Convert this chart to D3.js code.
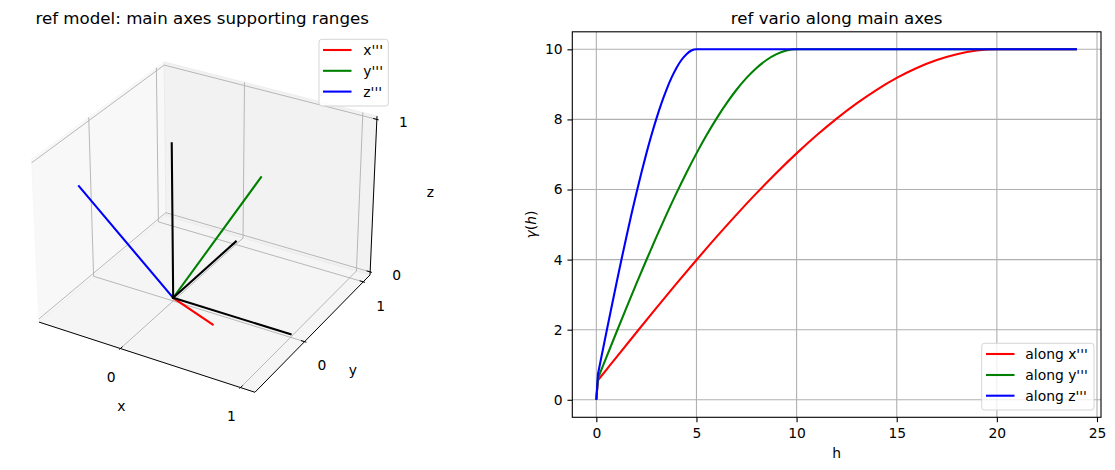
<!DOCTYPE html>
<html><head><meta charset="utf-8">
<script src="https://cdn.jsdelivr.net/npm/d3@7"></script>
<style>
body{margin:0;background:#fff}
svg{display:block}
text{font-family:"DejaVu Sans",sans-serif;fill:#000}
</style>
</head><body>
<svg id="chart" width="1115" height="470"></svg>
<script>
// ================= DATA =================
// left panel: rotated main axes (unit vectors) and reference axes
const axisLabels = ["x'''", "y'''", "z'''"];
const axisColors = ["#ff0000", "#008000", "#0000ff"];
const xTripleEnd = [0.706, -0.659, 0.260];
const yTripleEnd = [0.389, 0.668, 0.636];
const zTripleEnd = [-0.594, -0.346, 0.727];
const refAxisEnds = [[1, 0, 0], [0, 1, 0], [0, 0, 1]];
const ticks3d = [0, 1];

// right panel: variogram along the main axes
const seriesLabels = ["along x'''", "along y'''", "along z'''"];
const hAlongX = [0, 0.08, 0.5, 1, 2, 3, 4, 5, 6, 7, 8, 9, 10, 11, 12, 13, 14, 15, 16, 17, 18, 19, 20, 22, 24];
const gammaAlongX = [0, 0.557, 0.856, 1.212, 1.920, 2.621, 3.312, 3.988, 4.647, 5.284, 5.896, 6.480, 7.031, 7.547, 8.024, 8.458, 8.846, 9.184, 9.468, 9.695, 9.862, 9.965, 10, 10, 10];
const hAlongY = [0, 0.08, 0.25, 0.5, 1, 1.5, 2, 2.5, 3, 3.5, 4, 4.5, 5, 5.5, 6, 6.5, 7, 7.5, 8, 8.5, 9, 9.5, 10, 17, 24];
const gammaAlongY = [0, 0.614, 0.856, 1.212, 1.920, 2.621, 3.312, 3.988, 4.647, 5.284, 5.896, 6.480, 7.031, 7.547, 8.024, 8.458, 8.846, 9.184, 9.468, 9.695, 9.862, 9.965, 10, 10, 10];
const hAlongZ = [0, 0.08, 0.125, 0.25, 0.5, 0.75, 1, 1.25, 1.5, 1.75, 2, 2.25, 2.5, 2.75, 3, 3.25, 3.5, 3.75, 4, 4.25, 4.5, 4.75, 5, 14.5, 24];
const gammaAlongZ = [0, 0.728, 0.856, 1.212, 1.920, 2.621, 3.312, 3.988, 4.647, 5.284, 5.896, 6.480, 7.031, 7.547, 8.024, 8.458, 8.846, 9.184, 9.468, 9.695, 9.862, 9.965, 10, 10, 10];
const hTicks = [0, 5, 10, 15, 20, 25];
const gammaTicks = [0, 2, 4, 6, 8, 10];

// ================= COMMON =================
const svg = d3.select("#chart");
const FS = 13.89, TFS = 16.67;

// ================= LEFT: 3D =================
function dot(a, b) { return a[0]*b[0] + a[1]*b[1] + a[2]*b[2]; }
function cross(a, b) { return [a[1]*b[2]-a[2]*b[1], a[2]*b[0]-a[0]*b[2], a[0]*b[1]-a[1]*b[0]]; }
function unit(a) { const n = Math.hypot(a[0], a[1], a[2]); return a.map(v => v / n); }

const vecs = [xTripleEnd, yTripleEnd, zTripleEnd];
const allPts = [[0, 0, 0]].concat(vecs, refAxisEnds);
function autoLim(i, margin) {
  let lo = d3.min(allPts, p => p[i]), hi = d3.max(allPts, p => p[i]);
  const m = (hi - lo) * margin; lo -= m; hi += m;
  const pad = (hi - lo) / 48;
  return [lo - pad, hi + pad];
}
const LIM = [autoLim(0, 0.05), autoLim(1, 0.05), autoLim(2, 0)];
const boxAsp = [4, 4, 3].map(v => v * 1.8294640721620434 / Math.sqrt(41));
const elev = 30 * Math.PI / 180, azim = -60 * Math.PI / 180, dist = 10;
const W = [Math.cos(elev)*Math.cos(azim), Math.cos(elev)*Math.sin(azim), Math.sin(elev)];
const U = unit(cross([0, 0, 1], W));
const V = cross(W, U);
const ax3 = {left: 1.8, top: 24.6, size: 400.5};
const sx3 = d3.scaleLinear().domain([-0.095, 0.09]).range([ax3.left, ax3.left + ax3.size]);
const sy3 = d3.scaleLinear().domain([-0.095, 0.09]).range([ax3.top + ax3.size, ax3.top]);
function P(p) {
  const q = p.map((v, i) => (v - LIM[i][0]) / (LIM[i][1] - LIM[i][0]) * boxAsp[i] - boxAsp[i] / 2);
  const d = dist - dot(W, q);
  return [sx3(dot(U, q) / d), sy3(dot(V, q) / d)];
}
const line3 = pts => d3.line()(pts.map(P));
const [xlo, xhi] = LIM[0], [ylo, yhi] = LIM[1], [zlo, zhi] = LIM[2];

const g3 = svg.append("g");
// panes
const panes = [
  {c: "rgba(242,242,242,0.5)", pts: [[xlo,ylo,zlo],[xlo,yhi,zlo],[xlo,yhi,zhi],[xlo,ylo,zhi]]},
  {c: "rgba(230,230,230,0.5)", pts: [[xlo,yhi,zlo],[xhi,yhi,zlo],[xhi,yhi,zhi],[xlo,yhi,zhi]]},
  {c: "rgba(236,236,236,0.5)", pts: [[xlo,ylo,zlo],[xhi,ylo,zlo],[xhi,yhi,zlo],[xlo,yhi,zlo]]}
];
panes.forEach(p => g3.append("path").attr("d", line3(p.pts) + "Z")
  .attr("fill", p.c).attr("stroke", p.c).attr("stroke-width", 1));

// gridlines
const gridCol = "#b0b0b0", gridW = 0.9;
ticks3d.forEach(t => {
  [[[t,ylo,zlo],[t,yhi,zlo],[t,yhi,zhi]],
   [[xhi,t,zlo],[xlo,t,zlo],[xlo,t,zhi]],
   [[xlo,ylo,t],[xlo,yhi,t],[xhi,yhi,t]]].forEach(pts =>
    g3.append("path").attr("d", line3(pts)).attr("fill", "none")
      .attr("stroke", gridCol).attr("stroke-width", gridW));
});

// axis lines
[[[xlo,ylo,zlo],[xhi,ylo,zlo]], [[xhi,ylo,zlo],[xhi,yhi,zlo]], [[xhi,yhi,zlo],[xhi,yhi,zhi]]]
  .forEach(pts => g3.append("path").attr("d", line3(pts)).attr("fill", "none")
    .attr("stroke", "#000").attr("stroke-width", 1));

// ticks and tick labels
const dxT = (xhi - xlo) / 12, dyT = (yhi - ylo) / 12;
const tickOff = {x: [-9.2, 28.9], y: [17.3, 23.7], z: [26.6, 2.6]};
ticks3d.forEach(t => {
  const defs = [
    {k: "x", a: [t, ylo - 0.1*dyT, zlo], b: [t, ylo + 0.2*dyT, zlo], o: [t, ylo, zlo]},
    {k: "y", a: [xhi + 0.1*dxT, t, zlo], b: [xhi - 0.2*dxT, t, zlo], o: [xhi, t, zlo]},
    {k: "z", a: [xhi + 0.1*dxT, yhi, t], b: [xhi - 0.2*dxT, yhi, t], o: [xhi, yhi, t]}
  ];
  defs.forEach(dd => {
    g3.append("path").attr("d", line3([dd.a, dd.b])).attr("stroke", "#000").attr("stroke-width", 1);
    const o = P(dd.o);
    g3.append("text").attr("x", o[0] + tickOff[dd.k][0]).attr("y", o[1] + tickOff[dd.k][1])
      .attr("text-anchor", "middle").attr("dominant-baseline", "central")
      .attr("font-size", FS).text(t);
  });
});
// axis labels
const midX = P([(xlo+xhi)/2, ylo, zlo]), midY = P([xhi, (ylo+yhi)/2, zlo]), midZ = P([xhi, yhi, (zlo+zhi)/2]);
[["x", midX, [-23, 49.5]], ["y", midY, [38, 38.5]], ["z", midZ, [57, -5.7]]].forEach(([s, m, off]) =>
  g3.append("text").attr("x", m[0] + off[0]).attr("y", m[1] + off[1])
    .attr("text-anchor", "middle").attr("dominant-baseline", "central").attr("font-size", FS).text(s));

// data lines
vecs.forEach((v, i) => g3.append("path").attr("d", line3([[0,0,0], v])).attr("fill", "none")
  .attr("stroke", axisColors[i]).attr("stroke-width", 2.08).attr("stroke-linecap", "square"));
refAxisEnds.forEach(v => g3.append("path").attr("d", line3([[0,0,0], v])).attr("fill", "none")
  .attr("stroke", "#000").attr("stroke-width", 2.08).attr("stroke-linecap", "square"));

// title
svg.append("text").attr("x", 202.2).attr("y", 24).attr("text-anchor", "middle")
  .attr("font-size", TFS).text("ref model: main axes supporting ranges");

// legend
function legend(x0, y0, w, h, lineX0, lineX1, textX, rowYs, labels) {
  const lg = svg.append("g");
  lg.append("rect").attr("x", x0).attr("y", y0).attr("width", w).attr("height", h)
    .attr("rx", 2.8).attr("fill", "rgba(255,255,255,0.8)").attr("stroke", "#d5d5d5").attr("stroke-width", 1);
  labels.forEach((lab, i) => {
    lg.append("line").attr("x1", lineX0).attr("x2", lineX1).attr("y1", rowYs[i]).attr("y2", rowYs[i])
      .attr("stroke", axisColors[i]).attr("stroke-width", 2.08);
    lg.append("text").attr("x", textX).attr("y", rowYs[i]).attr("dominant-baseline", "central")
      .attr("font-size", FS).text(lab);
  });
}
legend(319, 39.3, 69.3, 66.7, 323, 351.5, 363.3, [50, 70.8, 91.6], axisLabels);

// ================= RIGHT: variogram =================
const series = [
  {h: hAlongX, g: gammaAlongX},
  {h: hAlongY, g: gammaAlongY},
  {h: hAlongZ, g: gammaAlongZ}
];
const ax2 = {left: 572.3, right: 1101, top: 31.8, bottom: 417.3};
const hAll = [].concat(hAlongX, hAlongY, hAlongZ), gAll = [].concat(gammaAlongX, gammaAlongY, gammaAlongZ);
const hExt = d3.extent(hAll), gExt = d3.extent(gAll);
const hm = (hExt[1] - hExt[0]) * 0.05, gm = (gExt[1] - gExt[0]) * 0.05;
const xs = d3.scaleLinear().domain([hExt[0] - hm, hExt[1] + hm]).range([ax2.left, ax2.right]);
const ys = d3.scaleLinear().domain([gExt[0] - gm, gExt[1] + gm]).range([ax2.bottom, ax2.top]);

const g2 = svg.append("g");
// grid
hTicks.forEach(t => g2.append("line").attr("x1", xs(t)).attr("x2", xs(t)).attr("y1", ax2.top).attr("y2", ax2.bottom)
  .attr("stroke", "#b0b0b0").attr("stroke-width", 1.1));
gammaTicks.forEach(t => g2.append("line").attr("x1", ax2.left).attr("x2", ax2.right).attr("y1", ys(t)).attr("y2", ys(t))
  .attr("stroke", "#b0b0b0").attr("stroke-width", 1.1));

// curves: nugget jump drawn straight, the rest smooth
const lineLin = d3.line().x(d => xs(d[0])).y(d => ys(d[1]));
const lineSmooth = d3.line().x(d => xs(d[0])).y(d => ys(d[1])).curve(d3.curveMonotoneX);
series.forEach((s, i) => {
  const pts = s.h.map((h, j) => [h, s.g[j]]);
  const dStr = lineLin(pts.slice(0, 2)) + lineSmooth(pts.slice(1)).replace(/^M[^A-Za-z]*/, "");
  g2.append("path").attr("d", dStr)
    .attr("fill", "none").attr("stroke", axisColors[i]).attr("stroke-width", 2.08)
    .attr("stroke-linejoin", "round");
});

// axes
const xAxis = g2.append("g").attr("transform", `translate(0,${ax2.bottom})`)
  .call(d3.axisBottom(xs).tickValues(hTicks).tickSize(4.86).tickPadding(4.86).tickFormat(d3.format("d")));
const yAxis = g2.append("g").attr("transform", `translate(${ax2.left},0)`)
  .call(d3.axisLeft(ys).tickValues(gammaTicks).tickSize(4.86).tickPadding(4.86).tickFormat(d3.format("d")));
[xAxis, yAxis].forEach(a => {
  a.select(".domain").remove();
  a.selectAll(".tick line").attr("stroke", "#000").attr("stroke-width", 1.1);
  a.selectAll(".tick text").attr("font-size", FS).attr("font-family", "DejaVu Sans").attr("fill", "#000");
});
xAxis.selectAll(".tick text").attr("dy", "0.76em");
// spines
g2.append("rect").attr("x", ax2.left).attr("y", ax2.top).attr("width", ax2.right - ax2.left)
  .attr("height", ax2.bottom - ax2.top).attr("fill", "none").attr("stroke", "#000").attr("stroke-width", 1.1);

// labels & title
const cx2 = (ax2.left + ax2.right) / 2;
svg.append("text").attr("x", cx2).attr("y", 24).attr("text-anchor", "middle").attr("font-size", TFS)
  .text("ref vario along main axes");
svg.append("text").attr("x", cx2).attr("y", 458.3).attr("text-anchor", "middle").attr("font-size", FS).text("h");
const yl = svg.append("text").attr("transform", `translate(531,${(ax2.top + ax2.bottom) / 2}) rotate(-90)`)
  .attr("text-anchor", "middle").attr("dominant-baseline", "central").attr("font-size", FS);
yl.append("tspan").attr("font-style", "italic").text("γ");
yl.append("tspan").text("(");
yl.append("tspan").attr("font-style", "italic").text("h");
yl.append("tspan").text(")");

legend(981.7, 343.3, 112.3, 66.7, 986, 1014.5, 1025.3, [354, 375, 395.7], seriesLabels);
</script>
</body></html>
